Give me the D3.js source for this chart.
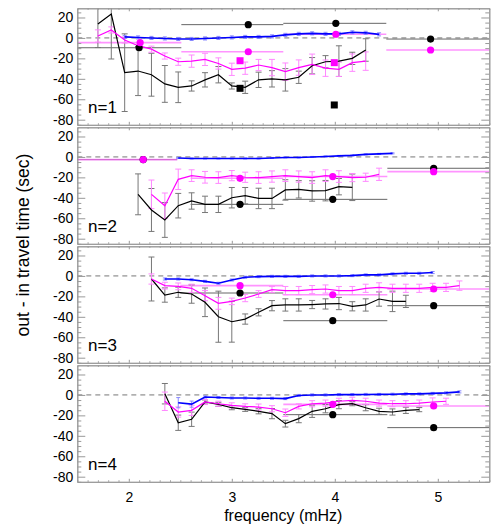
<!DOCTYPE html>
<html>
<head>
<meta charset="utf-8">
<script src="https://cdn.jsdelivr.net/npm/d3@7"></script>
<style>
body{margin:0;background:#fff}
svg{display:block;font-family:"Liberation Sans",Arial,Helvetica,sans-serif}
</style>
</head>
<body>
<svg id="chart" width="499" height="529"></svg>
<script>
// frequency grid (mHz) shared by all series
var FREQ=[1.70,1.83,1.96,2.09,2.22,2.35,2.48,2.61,2.74,2.87,3.00,3.13,3.26,3.39,
          3.52,3.65,3.78,3.91,4.04,4.17,4.30,4.43,4.56,4.69,4.82,4.95,5.08,5.21];
var LABELS=["n=1","n=2","n=3","n=4"];
var Y_TICKS=[20,0,-20,-40,-60,-80];
var X_TICKS=[2,3,4,5];

// black series: first grid index, values, errors
var blackStart=[0,3,4,5];
var black1=[13.6,23.4,-34,-32.4,-36,-45,-48.3,-47,-41,-36,-47,-48.3,-41,-40,-41,-38.5,-27.2,-23.3,-22.7,-20,-11.8];
var blackErr1=[23,44,38,24,21,18,15,5,7,8,3,6,7.5,8,11,6,8,6,15,6,11];
var black2=[-36.6,-51.9,-61.7,-47.7,-43.1,-46.4,-46.4,-39.9,-37.9,-40.6,-40.6,-32.3,-31.7,-33.3,-33,-29.1,-29.7];
var blackErr2=[20,21,17,12,8,8,8,10,8,10,10,10,8.5,10,10,8,13];
var black3=[-3,-18.7,-16,-17.7,-25.8,-39.9,-44.8,-42.2,-35.6,-29.1,-28.4,-28.4,-28,-27.4,-27,-29.7,-28.4,-22.6,-24.9,-24.9];
var blackErr3=[21.5,7,5,9,14,25,20,5,3.5,5,6,6,4,5,6,4.5,6,7,10,6];
var black4=[1.2,-27.2,-23.8,-6.9,-9.2,-12.5,-14.1,-16,-18.3,-28.1,-23.2,-16,-13.5,-9.5,-8.6,-12.5,-16,-16.7,-15.1,-14.4];
var blackErr4=[10,7.5,7,2,2,2,2,2.5,5,3.3,4,6,4,4,2,3,3,3,3,2];

// magenta series
var magStart=[0,4,4,5];
var mag1=[1.9,7.8,-2,-7.6,-11,-17.7,-23.3,-22.7,-21,-25,-30.7,-29.6,-26.5,-29,-33,-29,-25.8,-29.6,-30.7,-24.2,-22.7];
var magErr1=[6,3,3,3,3,3,3.5,6,6,5.5,6,6,5.5,8,8.5,7.5,10,8,7,8.5,9];
var mag2=[-36.6,-47.7,-21.9,-18.3,-19.9,-20.2,-18.3,-19.9,-20.2,-19.2,-18.3,-19.2,-20.2,-18.3,-19.2,-20.2,-19.9,-17];
var magErr2=[14,12.4,10,5.7,5.7,5.7,5,5,5.7,5.5,5.7,5.5,5.7,5.7,5.7,4,4,6];
var mag3=[-3,-9.5,-10.2,-12.1,-19.3,-26.8,-24.9,-21.6,-17.7,-13.4,-14.3,-14.3,-13.4,-12.8,-14.3,-14.3,-12.1,-11.2,-12.1,-12.1,-12.1,-11.2,-11.2,-9.5];
var magErr3=[5,3.3,3.3,4,5,5.8,3.2,3.6,3.3,3,4,4,4,4,4,4,4,4.5,4,4,4,4,4,4.6];
var mag4=[-6.2,-16.7,-15.1,-6.9,-8.6,-10.2,-11.2,-11.9,-13.5,-17.4,-11.2,-8.6,-8,-6.2,-5.3,-6.2,-8,-8.6,-8.6,-8,-6.9,-6.2];
var magErr4=[9,5,5,2.5,2.5,2.5,2.5,3,3,3.6,2.5,3,3,3,3,3,3,3,3,3,4,3];

// blue series
var blueStart=[2,6,5,6];
var blue1=[1,0.5,0,-0.5,-1,-1,-0.5,0,0.5,1,1,1.5,3,4,4.5,4,4,5.5,5,3.5];
var blueErr1=[1.5,1.5,1.5,1.5,1.5,1.5,1.5,1.5,1.5,1.5,1.5,1.5,1.5,1.5,1.5,1.5,1.5,1.5,1.5,1.5];
var blue2=[-1,-1.5,-1.5,-1.5,-1.5,-1.5,-1.5,-1,-0.5,-0.5,0,0.5,1,1.5,2.5,3,3.5];
var blueErr2=[0.5,0.5,0.5,0.5,0.5,0.5,0.5,0.5,0.5,0.5,0.5,0.5,0.5,0.5,0.5,0.5,0.5];
var blue3=[-3,-3,-3.7,-5.3,-7.2,-4,-1.3,-0.7,-0.4,-0.4,-0.4,0,0,0,0.3,1,1,2,2.6,2.6,3.3];
var blueErr3=[1,1,1,1,1,1,1,1,1,1,1,1,1,1,1,1,1,1,1,1,1];
var blue4=[-7.6,-9,-2,-2.5,-3,-3,-3.3,-3.3,-3.6,-0.5,0,0,0.3,0.3,0.5,0.5,0.7,1,1,1.5,2,3];
var blueErr4=[5,3,1,1,1,1,1,1,1,1,1,1,1,1,1,1,1,1,1,1,1,1];

// binned points: [frequency, value, bin low, bin high]
var blackBins1=[[2.10,-9.6,1.4,2.51],[3.16,13,2.51,3.50],[4.01,14.3,3.50,4.50],[4.93,-1.1,4.50,5.6]];
var magBins1=[[2.11,-4.6,1.4,2.51],[3.16,-13.5,2.51,3.50],[4.01,3.6,3.50,4.50],[4.93,-11.8,4.50,5.6]];
var blackBins2=[[2.14,-2.6,1.4,2.47],[3.08,-46.4,2.6,3.5],[3.98,-41.5,3.5,4.51],[4.96,-11.1,4.51,5.6]];
var magBins2=[[2.14,-2.6,1.4,2.47],[3.08,-20.9,2.6,3.5],[3.98,-19.2,3.5,4.51],[4.96,-14.4,4.51,5.6]];
var blackBins3=[[3.08,-16.7,2.5,3.5],[3.98,-43.8,3.5,4.51],[4.96,-29.1,4.51,5.6]];
var magBins3=[[3.08,-9.5,2.5,3.5],[3.98,-18.4,3.5,4.51],[4.96,-12.8,4.51,5.6]];
var blackBins4=[[3.98,-19.3,3.5,4.51],[4.96,-32,4.51,5.6]];
var magBins4=[[3.98,-9.2,3.5,4.51],[4.96,-10.8,4.51,5.6]];

// squares (panel 1 only): [frequency, value]
var blackSquares=[[3.08,-49.3],[3.995,-65.6]];
var magSquares=[[3.08,-22.3],[3.995,-24.2]];

var LEFT=77.3,RIGHT=489.3,PH=116.5,
    TOPS=[8.3,127.3,246.3,365.3],
    FRAME="#999";

function series(start,vals,errs){
	return vals.map(function(v,j){return {f:FREQ[start+j],v:v,e:errs[j]};});
}

var panels=[
	{black:series(blackStart[0],black1,blackErr1),mag:series(magStart[0],mag1,magErr1),blue:series(blueStart[0],blue1,blueErr1),bBins:blackBins1,mBins:magBins1},
	{black:series(blackStart[1],black2,blackErr2),mag:series(magStart[1],mag2,magErr2),blue:series(blueStart[1],blue2,blueErr2),bBins:blackBins2,mBins:magBins2},
	{black:series(blackStart[2],black3,blackErr3),mag:series(magStart[2],mag3,magErr3),blue:series(blueStart[2],blue3,blueErr3),bBins:blackBins3,mBins:magBins3},
	{black:series(blackStart[3],black4,blackErr4),mag:series(magStart[3],mag4,magErr4),blue:series(blueStart[3],blue4,blueErr4),bBins:blackBins4,mBins:magBins4}
];

var x=d3.scaleLinear().domain([1.5,5.5]).range([LEFT,RIGHT]);
var y=d3.scaleLinear().domain([-85,29]).range([PH,0]);
var line=d3.line().x(function(d){return x(d.f);}).y(function(d){return y(d.v);});

var svg=d3.select("#chart");

function errBars(sel,pts,color,cap){
	sel.append("g").selectAll("path").data(pts).enter().append("path")
		.attr("d",function(d){
			var xx=x(d.f),y1=y(d.v+d.e),y2=y(d.v-d.e);
			return "M"+(xx-cap)+","+y1+"h"+(2*cap)+"M"+xx+","+y1+"V"+y2+"M"+(xx-cap)+","+y2+"h"+(2*cap);
		})
		.attr("fill","none").attr("stroke",color).attr("stroke-width",1);
}

function binLines(sel,bins,color,width,opacity){
	sel.append("g").selectAll("line").data(bins).enter().append("line")
		.attr("x1",function(d){return x(d[2]);}).attr("x2",function(d){return x(d[3]);})
		.attr("y1",function(d){return y(d[1]);}).attr("y2",function(d){return y(d[1]);})
		.attr("stroke",color).attr("stroke-width",width).attr("stroke-opacity",opacity);
}

function binDots(sel,bins,color){
	sel.append("g").selectAll("circle").data(bins).enter().append("circle")
		.attr("cx",function(d){return x(d[0]);}).attr("cy",function(d){return y(d[1]);})
		.attr("r",3.6).attr("fill",color);
}

function squares(sel,pts,color){
	sel.append("g").selectAll("rect").data(pts).enter().append("rect")
		.attr("x",function(d){return x(d[0])-3.5;}).attr("y",function(d){return y(d[1])-3.5;})
		.attr("width",7).attr("height",7).attr("fill",color);
}

var minorY=d3.range(-85,30,5).filter(function(v){return v%20!==0;});
var minorX=d3.range(15,56).map(function(v){return v/10;}).filter(function(v){return v%1!==0;});

function styleAxis(a){
	a.selectAll("path.domain").attr("stroke",FRAME);
	a.selectAll(".tick line").attr("stroke",FRAME);
	a.selectAll("text").attr("fill","#000").style("font-size","14px");
}

panels.forEach(function(p,i){
	var g=svg.append("g").attr("transform","translate(0,"+TOPS[i]+")");
	g.append("clipPath").attr("id","clip"+i).append("rect")
		.attr("x",LEFT).attr("y",0).attr("width",RIGHT-LEFT).attr("height",PH);
	var plot=g.append("g").attr("clip-path","url(#clip"+i+")");

	plot.append("line").attr("x1",LEFT).attr("x2",RIGHT).attr("y1",y(0)).attr("y2",y(0))
		.attr("stroke","#777").attr("stroke-dasharray","5,4");

	binLines(plot,p.bBins,"#666",1,1);
	binLines(plot,p.mBins,"#ff66ff",1.6,0.7);

	errBars(plot,p.black,"#777",3);
	errBars(plot,p.mag,"#ff88ff",3);
	errBars(plot,p.blue,"#8888ff",2);

	plot.append("path").datum(p.black).attr("d",line).attr("fill","none").attr("stroke","#000").attr("stroke-width",1.2);
	plot.append("path").datum(p.mag).attr("d",line).attr("fill","none").attr("stroke","#ff00ff").attr("stroke-width",1.2);
	plot.append("path").datum(p.blue).attr("d",line).attr("fill","none").attr("stroke","#0000ff").attr("stroke-width",1.6);

	binDots(plot,p.bBins,"#000");
	binDots(plot,p.mBins,"#ff00ff");
	if(i===0){
		squares(plot,blackSquares,"#000");
		squares(plot,magSquares,"#ff00ff");
	}

	// axes
	var aL=g.append("g").attr("transform","translate("+LEFT+",0)")
		.call(d3.axisLeft(y).tickValues(Y_TICKS).tickSize(-8).tickSizeOuter(0).tickPadding(4).tickFormat(function(d){return String(d);}));
	styleAxis(aL);
	g.append("g").attr("transform","translate("+LEFT+",0)")
		.call(d3.axisLeft(y).tickValues(minorY).tickSize(-4).tickSizeOuter(0).tickFormat(""))
		.call(styleAxis);
	g.append("g").attr("transform","translate("+RIGHT+",0)")
		.call(d3.axisRight(y).tickValues(Y_TICKS).tickSize(-8).tickSizeOuter(0).tickFormat(""))
		.call(styleAxis);
	g.append("g").attr("transform","translate("+RIGHT+",0)")
		.call(d3.axisRight(y).tickValues(minorY).tickSize(-4).tickSizeOuter(0).tickFormat(""))
		.call(styleAxis);
	var aB=g.append("g").attr("transform","translate(0,"+PH+")")
		.call(d3.axisBottom(x).tickValues(X_TICKS).tickSize(-3).tickSizeOuter(0).tickPadding(10)
			.tickFormat(i===3?function(d){return String(d);}:""));
	styleAxis(aB);
	g.append("g").attr("transform","translate(0,"+PH+")")
		.call(d3.axisBottom(x).tickValues(minorX).tickSize(-1.5).tickSizeOuter(0).tickFormat(""))
		.call(styleAxis);
	g.append("g")
		.call(d3.axisTop(x).tickValues(X_TICKS).tickSize(-3).tickSizeOuter(0).tickFormat(""))
		.call(styleAxis);
	g.append("g")
		.call(d3.axisTop(x).tickValues(minorX).tickSize(-1.5).tickSizeOuter(0).tickFormat(""))
		.call(styleAxis);

	g.append("text").attr("x",88).attr("y",PH-12).style("font-size","17px").attr("fill","#000").text(LABELS[i]);
});

svg.append("text").attr("x",(LEFT+RIGHT)/2).attr("y",521).attr("text-anchor","middle")
	.style("font-size","16px").text("frequency (mHz)");
svg.append("text").attr("transform","translate(29,245) rotate(-90)").attr("text-anchor","middle")
	.style("font-size","17.5px").text("out - in travel time (sec)");
</script>
</body>
</html>
